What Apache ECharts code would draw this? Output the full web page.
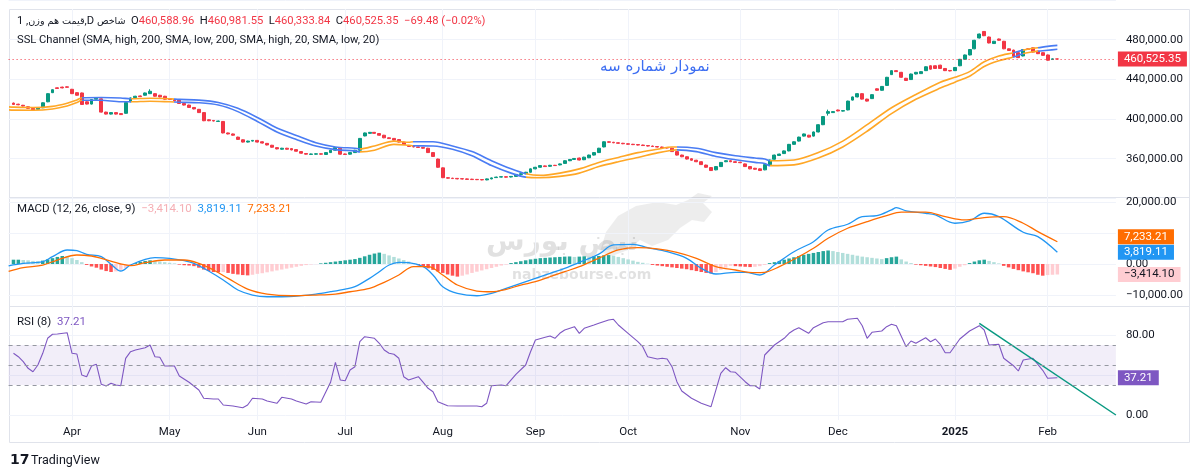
<!DOCTYPE html>
<html><head><meta charset="utf-8">
<script src="https://cdn.jsdelivr.net/npm/echarts@6/dist/echarts.min.js"></script>
<style>html,body{margin:0;padding:0;background:#fff}#c{width:1200px;height:476px}</style>
</head><body><div id="c"></div>
<script>
// ---------- DATA (prices in thousands) ----------
// candles: [open, close, low, high]
const candles = [
[416.1,414.7,414.3,416.6],[415.0,414.4,414.0,415.4],[413.9,413.1,412.7,414.3],[412.4,410.8,410.4,412.8],[410.8,409.2,408.8,411.1],
[409.8,411.4,409.4,411.8],[411.4,416.4,411.0,416.8],[417.4,425.6,417.0,426.0],[426.6,429.6,426.2,430.0],[431.5,430.8,430.4,431.9],
[432.2,431.4,431.0,432.6],[432.5,432.0,431.6,432.9],[430.0,425.6,425.2,430.4],[426.6,424.0,423.6,427.0],[426.3,414.7,414.3,426.7],
[417.4,415.1,414.7,417.8],[415.1,419.7,414.7,420.1],[420.0,421.0,419.6,421.4],[420.4,407.0,406.6,420.8],[407.0,405.0,404.6,407.4],
[405.0,406.5,404.6,406.9],[406.5,405.0,404.6,406.9],[405.5,404.5,404.1,405.9],[405.8,416.7,405.4,417.1],[417.4,421.3,417.0,421.7],
[421.6,423.0,421.2,423.4],[423.3,422.6,422.2,423.7],[424.0,426.3,423.6,426.7],[425.6,428.0,425.2,430.0],[425.6,423.0,422.6,426.0],
[424.0,422.3,421.9,424.4],[423.0,420.0,419.6,423.4],[420.6,419.7,419.3,421.0],[419.7,418.4,418.0,420.1],[419.1,415.7,415.3,419.5],
[415.7,414.1,413.7,416.1],[414.1,411.7,411.3,414.5],[411.7,410.2,409.8,412.1],[409.8,406.5,406.1,410.2],[406.5,398.3,397.9,406.9],
[399.3,398.3,397.9,399.7],[398.6,398.0,397.6,399.0],[397.6,398.0,397.2,398.4],[397.6,386.0,385.6,398.0],[386.0,385.0,384.6,386.4],
[385.0,383.7,383.3,385.4],[381.8,379.5,379.1,382.2],[379.1,376.8,376.4,379.5],[376.8,377.8,376.4,378.2],[377.8,378.5,377.4,378.9],
[378.5,376.8,376.4,378.9],[377.1,375.8,375.4,377.5],[375.5,373.9,373.5,375.9],[373.6,371.6,371.2,374.0],[371.2,369.9,369.5,371.6],
[369.6,370.6,369.2,371.0],[370.6,369.6,369.2,371.0],[370.2,368.9,368.5,370.6],[369.2,367.6,367.2,369.6],[367.2,365.6,365.2,367.6],
[365.3,364.6,364.2,365.7],[364.4,364.8,364.0,365.2],[364.6,365.0,364.2,365.4],[365.0,364.6,364.2,365.4],[364.3,366.2,363.9,366.6],
[366.2,368.6,365.8,369.0],[368.6,371.2,368.2,371.6],[370.6,364.6,364.2,371.0],[364.8,364.3,363.9,365.2],[364.6,366.2,364.2,366.6],
[366.2,368.6,365.8,369.0],[368.6,380.5,368.2,380.9],[383.0,386.0,382.6,386.4],[385.6,386.6,385.2,387.0],[386.6,385.6,385.2,387.0],
[385.4,383.7,383.3,385.8],[383.7,381.1,380.7,384.1],[381.1,380.3,379.9,381.5],[380.5,378.8,378.4,380.9],[379.3,376.8,376.4,379.7],
[376.8,374.3,373.9,377.2],[373.4,372.4,372.0,373.8],[372.4,371.9,371.5,372.8],[371.9,371.4,371.0,372.3],[371.4,370.6,370.2,371.8],
[370.6,366.2,365.8,371.0],[366.2,362.3,361.9,366.6],[359.7,351.4,351.0,360.1],[350.8,340.9,340.5,351.2],[340.9,340.4,340.0,341.3],
[340.4,340.0,339.6,340.8],[340.2,339.7,339.3,340.6],[339.9,339.6,339.2,340.3],[339.7,339.2,338.8,340.1],[339.4,339.0,338.6,339.8],
[339.2,338.9,338.5,339.6],[339.0,338.7,338.3,339.4],[338.7,339.7,338.3,340.1],[339.7,340.7,339.3,341.1],[341.0,341.5,340.6,341.9],
[341.5,341.9,341.1,342.3],[341.9,341.4,341.0,342.3],[341.6,342.2,341.2,342.6],[342.2,344.2,341.8,344.6],[344.2,344.9,343.8,345.3],
[344.9,346.4,344.5,346.8],[346.4,349.8,346.0,350.2],[349.8,351.4,349.4,351.8],[351.4,353.1,351.0,353.5],[352.8,352.1,351.7,353.2],
[352.4,353.4,352.0,353.8],[353.4,353.1,352.7,353.8],[353.8,354.8,353.4,355.2],[355.3,358.0,354.9,358.4],[358.0,359.3,357.6,359.7],
[359.3,360.3,358.9,360.7],[360.7,358.7,358.3,361.1],[359.0,361.6,358.6,362.0],[361.0,363.7,360.6,364.1],[363.7,366.2,363.3,366.6],
[366.2,370.6,365.8,371.0],[371.9,377.1,371.5,377.5],[377.1,376.6,376.2,377.5],[376.6,376.1,375.7,377.0],[376.1,375.6,375.2,376.5],
[375.6,375.1,374.7,376.0],[375.1,374.6,374.2,375.5],[374.6,374.2,373.8,375.0],[374.3,373.8,373.4,374.7],[373.8,373.3,372.9,374.2],
[373.3,372.8,372.4,373.7],[372.8,372.3,371.9,373.2],[372.3,371.8,371.4,372.7],[371.8,371.3,370.9,372.2],[371.3,370.8,370.4,371.7],
[370.6,367.2,366.8,371.0],[367.2,363.7,363.3,367.6],[363.7,362.0,361.6,364.1],[362.0,359.7,359.3,362.4],[360.0,358.5,358.1,360.4],
[358.5,357.0,356.6,358.9],[357.0,354.1,353.7,357.4],[353.6,351.4,351.0,354.0],[351.1,348.1,347.7,351.5],[348.8,352.1,348.4,352.5],
[352.1,356.3,351.7,356.7],[357.0,358.0,356.6,358.4],[358.0,357.0,356.6,358.4],[357.0,356.3,355.9,357.4],[356.5,356.0,355.6,356.9],
[354.8,352.1,351.7,355.2],[352.1,349.8,349.4,352.5],[350.4,349.4,349.0,350.8],[349.8,348.1,347.7,350.2],[348.8,354.1,348.4,354.5],
[354.1,358.7,353.7,359.1],[359.5,363.7,359.1,364.1],[363.3,364.7,362.9,365.1],[365.2,367.9,364.8,368.3],[367.9,374.5,367.5,374.9],
[374.5,377.1,374.1,377.5],[377.8,381.8,377.4,382.2],[382.8,385.0,382.4,385.4],[383.7,381.8,381.4,384.1],[382.8,387.0,382.4,387.4],
[387.0,394.3,386.6,394.7],[394.3,402.5,393.9,402.9],[405.8,407.5,403.5,409.5],[406.5,407.5,406.1,407.9],[409.1,408.2,407.8,409.5],
[408.0,408.5,407.6,408.9],[409.2,418.1,408.8,418.5],[419.1,422.3,418.7,422.7],[422.3,425.6,421.9,426.0],[425.6,420.1,419.7,426.0],
[420.1,418.1,417.7,420.5],[420.6,424.6,420.2,425.0],[430.5,429.0,428.6,430.9],[429.0,432.9,428.6,433.3],[433.9,442.1,433.5,442.5],
[444.8,448.8,444.4,449.2],[448.8,447.8,447.4,449.2],[447.1,442.1,441.7,447.5],[441.1,438.9,438.5,441.5],[439.8,445.4,439.4,445.8],
[445.4,447.1,445.0,447.5],[445.8,447.8,445.4,448.2],[448.8,452.7,448.4,453.1],[453.7,450.3,449.9,454.1],[453.7,451.0,450.6,454.1],
[454.3,451.0,450.6,454.7],[451.0,448.8,448.4,451.4],[449.0,448.5,448.1,449.4],[448.8,452.0,448.4,452.4],[453.7,460.2,453.3,460.6],
[460.2,464.6,459.8,465.0],[464.6,470.1,464.2,470.5],[470.8,479.4,470.4,479.8],[481.7,485.7,481.3,486.1],[488.3,484.0,483.6,488.7],
[482.7,476.7,476.3,483.1],[476.1,478.4,475.7,478.8],[480.7,479.4,479.0,481.1],[478.4,470.8,470.4,478.8],[470.8,469.1,468.7,471.2],
[469.5,462.9,462.5,469.9],[466.9,461.9,461.5,467.3],[463.6,470.1,463.2,470.5],[470.8,470.1,469.7,471.2],[471.8,467.5,467.1,472.2],
[468.5,465.9,465.5,468.9],[466.9,464.2,463.8,467.3],[464.6,459.3,458.9,465.0],[460.0,460.7,459.6,461.1],[460.589,460.525,460.334,460.982]
];
const lastOHLC = ['460,588.96','460,981.55','460,333.84','460,525.35'];
const lastChange = '−69.48 (−0.02%)';
const lastPrice = 460.52535;

// SSL channel knots [barIndex, value]
const sslUpper = [[-1,412.3],[0,412.0],[4,411.6],[8,412.8],[11,416.0],[13,419.2],[14,421.5],[18,421.8],[22,421.3],[24,420.4],[28,420.9],[32,420.4],[34,419.8],[38,419.1],[42,416.7],[46,410.8],[50,401.6],[54,391.0],[58,383.4],[62,376.1],[66,371.9],[70,370.6],[71,369.9],[74,372.9],[78,377.8],[81,376.6],[82,377.1],[86,377.1],[90,372.9],[94,367.2],[98,358.0],[102,349.8],[105,344.9],[108,343.2],[112,345.5],[116,349.8],[120,356.3],[124,361.3],[128,366.2],[132,369.6],[135,371.9],[136,371.9],[140,370.6],[144,366.2],[148,363.0],[152,360.7],[154,359.7],[155,358.0],[160,358.7],[165,366.2],[170,377.8],[175,394.3],[180,411.4],[185,424.8],[190,437.2],[193,442.1],[196,447.8],[199,457.7],[202,463.6],[205,466.9],[207,469.5],[209,471.3],[210,471.8],[212,473.3],[214,474.3]];
const sslLower = [[-1,409.3],[0,409.0],[4,408.9],[8,410.2],[11,413.2],[13,416.6],[14,419.0],[18,418.9],[22,417.4],[24,417.4],[28,418.0],[32,417.4],[34,417.0],[38,416.4],[42,414.1],[46,407.5],[50,397.6],[54,387.0],[58,379.5],[62,372.9],[66,369.2],[70,367.9],[71,366.9],[74,368.6],[78,374.5],[81,373.6],[82,373.1],[86,372.9],[90,369.6],[94,363.0],[98,353.1],[102,345.5],[105,341.5],[108,340.9],[112,342.2],[116,345.5],[120,352.1],[124,357.0],[128,361.3],[132,365.9],[135,368.6],[136,368.9],[140,367.2],[144,362.3],[148,359.0],[152,356.3],[154,355.3],[155,353.1],[160,353.8],[165,360.7],[170,371.9],[175,387.7],[180,405.5],[185,419.9],[190,431.2],[193,437.2],[196,443.1],[199,453.0],[202,458.7],[205,462.6],[207,466.0],[209,467.9],[210,468.3],[212,469.3],[214,470.3]];
// trend sections of the channel: [fromBar, toBar, direction]
const sslTrend = [[-1,13.5,'up'],[13.5,23.5,'down'],[23.5,33,'up'],[33,70.5,'down'],[70.5,81.5,'up'],[81.5,104.5,'down'],[104.5,135.5,'up'],[135.5,154.5,'down'],[154.5,205,'up'],[205,207,'down'],[207,209.5,'up'],[209.5,215,'down']];

// MACD (thousands)
const macdLine = [[-1,-0.6],[2,0.2],[6,0.75],[8,2.4],[11,4.56],[13,4.35],[15,3.15],[18,2.38],[20,-0.1],[22,-2.28],[24,-0.33],[27,1.52],[29,2.06],[32,1.85],[35,1.08],[37,0.22],[40,-2.28],[43,-5.2],[46,-8.47],[49,-10.1],[52,-10.65],[55,-10.65],[59,-10.3],[62,-9.77],[65,-9.0],[68,-8.14],[70,-7.38],[73,-4.66],[75,-2.5],[77,-0.33],[79,0.54],[81,0.43],[84,-0.87],[86,-3.58],[88,-7.38],[91,-9.55],[95,-10.32],[98,-9.55],[101,-7.93],[104,-6.29],[107,-4.66],[110,-3.03],[113,-1.4],[116,0.5],[120,3.2],[123,6.19],[127,6.4],[130,5.3],[134,4.0],[138,1.85],[141,-1.4],[144,-3.26],[148,-2.7],[150,-2.7],[153,-3.58],[156,-0.33],[160,4.0],[164,7.26],[167,11.07],[171,12.93],[174,15.41],[177,15.73],[180,17.59],[181,18.34],[183,17.26],[187,16.51],[189,15.96],[193,13.26],[196,14.0],[199,16.51],[202,15.41],[207,10.32],[210,8.89],[214,3.81911]];
const signalLine = [[-1,-2.4],[2,-1.2],[6,-0.33],[9,1.3],[13,2.93],[16,2.6],[18,1.85],[22,0.0],[24,-0.55],[27,0.43],[31,1.3],[35,1.3],[38,0.22],[41,-1.95],[44,-4.66],[48,-8.14],[52,-9.77],[57,-10.32],[62,-10.1],[66,-9.77],[69,-9.02],[73,-7.93],[76,-5.97],[79,-3.58],[82,-0.87],[85,-0.87],[88,-3.58],[91,-6.84],[95,-8.79],[98,-9.02],[101,-8.24],[104,-6.84],[107,-5.76],[110,-4.14],[113,-2.5],[116,-0.87],[120,1.9],[124,4.56],[128,5.3],[132,4.89],[136,3.8],[140,1.85],[144,-0.87],[148,-1.95],[152,-2.83],[154,-2.7],[157,-0.87],[161,2.38],[164,5.11],[167,8.37],[171,11.63],[175,13.78],[179,15.73],[182,16.84],[187,16.84],[191,15.41],[195,14.33],[199,15.08],[203,15.41],[207,13.26],[210,10.52],[214,7.23321]];
const macdHist = [
1.4,1.4,1.3,1.2,1.0,0.9, 1.1,1.5,1.9,2.3,2.6, 2.4,1.9,1.3,0.6, -0.3,-0.8,-1.2,-1.8,-2.3,-2.6,
-2.4,-1.9,-1.3,-0.6, 0.3,0.7,1.0,1.2, 1.0,0.8,0.6,0.4,0.2, -0.2,-0.4,-0.5,-0.7, -1.2,-1.8,-2.3,-2.6,-2.7,
-2.6, -2.9,-3.2,-3.4,-3.6,-3.7, -3.5,-3.2,-3.0,-2.7,-2.4,-2.1,-1.8,-1.5,-1.2,-0.9,-0.6,-0.35,-0.15,-0.05,
0.2,0.4,0.6,0.8,1.0,1.2,1.4,1.6,2.0,2.5,3.0,3.4,3.7, 3.3,2.8,2.3,1.8,1.3,0.8,0.3,
-0.4,-0.9,-1.4,-1.9,-2.4,-2.9,-3.4,-3.8,-4.1, -3.8,-3.4,-2.9,-2.5,-2.1,-1.7,-1.3,-0.9,-0.5,-0.2,
0.3,0.6,0.9,1.2,1.5,1.7,1.9,2.0,2.1,2.2,2.3,2.4,2.45, 2.3,2.4,2.5,2.4,2.5, 2.6,2.8,2.9,
2.7,2.3,1.9,1.5,1.1,0.7,0.4,0.1, -0.3,-0.5,-0.7,-0.9,-1.1,-1.3,-1.5,-1.7,-2.0,-2.3,-2.6,-2.9,-3.1,
-2.6,-1.9,-1.2,-0.6, -0.7,-0.8,-0.9,-1.0, -0.9,-0.7,-0.3,
0.3,0.6,1.0,1.4,1.8,2.2,2.6,3.0,3.3,3.6,3.9,4.2,4.4, 4.2,3.9,3.6,3.3,3.0,2.7,2.4,2.2,2.0,1.8,1.6,
1.9,2.2,2.4, 1.5,0.8,0.3, -0.2,-0.4,-0.6,-0.8,-1.0,-1.3,-1.6,-1.9, -1.5,-0.9,-0.4,
0.3,0.8,1.2,1.4, 1.0,0.6,0.2, -0.6,-1.1,-1.6,-2.0,-2.4,-2.7,-3.0,-3.5,-3.8, -3.6,-3.5,-3.4141
];
// RSI(8) knots
const rsiLine = [[0,61.7],[1,58.3],[2,53.3],[3,46.7],[4,43.3],[5,50],[6,61.7],[7,76.7],[8,80.7],[9,81],[11,82.3],[12,61.7],[13,61],[14,40],[15,38.3],[16,49],[17,50.7],[18,30.7],[19,29],[20,31.7],[21,30],[22,29.3],[23,56.7],[24,63.3],[25,65],[27,67.3],[28,70],[29,58.3],[30,57.7],[31,49],[33,49],[34,39],[36,32.7],[38,25],[39,16.7],[41,16],[42,16],[43,10],[45,9],[47,7.3],[48,10],[49,16.7],[51,16],[52,14],[54,11.7],[55,17.7],[57,16],[58,14],[60,11],[61,13.3],[63,12.7],[65,32.7],[66,52.7],[67,35],[68,34.3],[69,45],[70,48.3],[71,73.3],[72,78.3],[74,76.7],[75,71.7],[76,65],[77,61.7],[78,60.7],[79,56.7],[80,38.3],[81,35],[83,38.3],[84,32.7],[85,26.7],[86,23.3],[87,13.3],[89,9.3],[91,9],[93,9],[95,9],[96,8.3],[97,11.7],[98,29.3],[100,30],[101,29.3],[103,40.7],[105,50],[106,63.3],[107,75],[109,77.7],[110,79],[111,76.7],[112,81.7],[113,85],[115,88.3],[116,81.7],[117,86.7],[119,90],[120,91.7],[122,95],[123,95.7],[124,90],[126,81.7],[128,73.3],[129,68.3],[130,58.3],[132,56],[133,56.7],[134,56],[135,48.3],[136,33.3],[137,24],[139,16.7],[141,11.7],[143,8.3],[145,41.7],[146,47.3],[147,43.3],[148,42.7],[150,33.3],[151,29.3],[152,29.3],[153,26],[154,60],[156,70],[158,76.7],[159,81.7],[160,85],[161,87.3],[163,81.7],[164,87.3],[166,92.3],[167,93.3],[170,93.3],[171,95.7],[173,96.7],[174,89.3],[175,76.7],[176,82.7],[178,84],[179,88.3],[180,90.7],[181,89.3],[183,68.3],[184,74],[185,71.7],[187,77.3],[188,73.3],[189,76],[190,70.7],[191,62.3],[192,62.3],[194,76],[195,80],[196,84],[198,89.3],[199,85],[200,70],[202,70.7],[203,56.7],[205,49.3],[206,44],[207,55],[209,56.7],[210,50.7],[211,44.7],[212,36.7],[214,37.21]];
const rsiLevels = [70, 50, 30];
const rsiTrendLine = [[198, 91.7], [226, 0]];

// time axis: [barIndex, label]
const monthTicks = [[12,'Apr'],[32,'May'],[50,'Jun'],[68,'Jul'],[88,'Aug'],[107,'Sep'],[126,'Oct'],[149,'Nov'],[169,'Dec'],[193,'2025'],[212,'Feb']];
const priceAxis = {min: 320, max: 520, step: 40};
const macdAxis = {min: -10, max: 20, step: 10};
const rsiAxis = {min: 0, max: 80, step: 40};
const lastMacd = 3.81911, lastSignal = 7.23321, lastHist = -3.4141, lastRsi = 37.21;

// ---------- CHART ----------
const N_CAT = 228; // bar i is drawn at category i+1; extra categories = future space
const cats = Array.from({length: N_CAT}, (_, c) => String(c));
const monthMap = new Map(monthTicks.map(([i, l]) => [i + 1, l]));
const sh = p => p.map(([i, v]) => [i + 1, v]);
const fmt = (v, d) => (v < 0 ? '−' : '') + Math.abs(v).toLocaleString('en-US', {minimumFractionDigits: d, maximumFractionDigits: d});

const FONT = 'Roboto, "Liberation Sans", sans-serif';
const FS = 11.2;
const TXT = '#131722';
const UP = '#089981', DOWN = '#F23645';
const GRIDC = '#F0F3FA';

const L = 8.6, R = 84.1;
const pxPerK = 1 / 0.9894;
const mainBottom = 198.43;
const mainH = (priceAxis.max - priceAxis.min) * pxPerK;

const xa = (g, extra) => Object.assign({
  type: 'category', gridIndex: g, data: cats, boundaryGap: false,
  axisLine: {show: false}, axisTick: {show: false}, axisLabel: {show: false}, splitLine: {show: false}
}, extra || {});
const ya = (g, ax, f, hide) => ({
  type: 'value', gridIndex: g, position: 'right', min: ax.min, max: ax.max, interval: ax.step,
  axisLine: {show: false}, axisTick: {show: false},
  splitLine: {show: true, lineStyle: {color: GRIDC, width: 1}},
  axisLabel: {show: true, margin: 10, color: TXT, fontSize: 11.5, fontFamily: FONT, align: 'left',
    showMinLabel: !(hide && hide.min), showMaxLabel: !(hide && hide.max), formatter: f}
});

const tag = (val, text, bg, fg, dy) => ({
  yAxis: val,
  lineStyle: {color: 'rgba(0,0,0,0)', width: 0},
  label: {show: true, position: 'end', distance: 2, formatter: text, backgroundColor: bg, color: fg, opacity: 1,
    padding: [2, 6, 1, 6], fontSize: 11.5, fontFamily: FONT, offset: [0, dy || 0]}
});

const histColor = p => {
  const i = p.dataIndex, v = macdHist[i], pv = i > 0 ? macdHist[i - 1] : v;
  if (v >= 0) return v >= pv ? '#26A69A' : '#B2DFDB';
  return v < pv ? '#FF5252' : '#FFCDD2';
};

const chart = echarts.init(document.getElementById('c'), null, {renderer: 'canvas'});
const option = {
  animation: false,
  backgroundColor: '#ffffff',
  textStyle: {fontFamily: FONT},
  grid: [
    {left: L, right: R, top: mainBottom - mainH, height: mainH},
    {left: L, right: R, top: 202.5, height: 92.25},
    {left: L, right: R, top: 335, height: 80},
    {left: L, right: R, top: 9, height: 411}
  ],
  xAxis: [
    xa(0), xa(1), xa(2),
    xa(3, {
      splitLine: {show: true, interval: (idx) => monthMap.has(idx), lineStyle: {color: GRIDC, width: 1}},
      axisLabel: {show: true, interval: (idx) => monthMap.has(idx), margin: 6, color: TXT, fontSize: 11.5, fontFamily: FONT,
        formatter: (v, idx) => { const l = monthMap.get(Number(v)); return l === '2025' ? '{b|2025}' : (l || ''); },
        rich: {b: {fontWeight: 'bold', fontSize: 11.5, color: TXT, fontFamily: FONT}}}
    })
  ],
  yAxis: [
    ya(0, priceAxis, v => fmt(v * 1000, 2), {min: true, max: true}),
    ya(1, macdAxis, v => v === 10 ? '' : fmt(v * 1000, 2)),
    ya(2, rsiAxis, v => v === 40 ? '' : fmt(v, 2)),
    {type: 'value', gridIndex: 3, show: false, min: 0, max: 1, splitLine: {show: false}}
  ],
  visualMap: [{
    show: false, type: 'piecewise', dimension: 0, seriesIndex: [1, 2],
    pieces: sslTrend.map(([s, e, d]) => ({gte: s + 1, lt: e + 1, color: d === 'up' ? '#FFA726' : '#4A7CF3'}))
  }],
  series: [
    {
      type: 'candlestick', xAxisIndex: 0, yAxisIndex: 0, barWidth: 3.4,
      data: candles.map((r, i) => [i + 1, r[0], r[1], r[2], r[3]]),
      encode: {x: 0, y: [1, 2, 3, 4]},
      itemStyle: {color: UP, color0: DOWN, borderColor: UP, borderColor0: DOWN, borderWidth: 1},
      z: 3,
      markLine: {
        silent: true, symbol: ['none', 'none'], animation: false,
        data: [{yAxis: lastPrice, lineStyle: {color: DOWN, type: [1, 3], width: 1},
          label: {show: true, position: 'end', distance: 2, formatter: lastOHLC[3], backgroundColor: DOWN, color: '#fff',
            padding: [2, 6, 1, 6], fontSize: 11.5, fontFamily: FONT}}]
      }
    },
    {type: 'line', xAxisIndex: 0, yAxisIndex: 0, data: sh(sslUpper), smooth: 0.3, showSymbol: false, symbol: 'none',
      lineStyle: {width: 1.6}, z: 4},
    {type: 'line', xAxisIndex: 0, yAxisIndex: 0, data: sh(sslLower), smooth: 0.3, showSymbol: false, symbol: 'none',
      lineStyle: {width: 1.6}, z: 4},
    {type: 'bar', xAxisIndex: 1, yAxisIndex: 1, barWidth: 3.5, data: macdHist.map((v, i) => [i + 1, v]),
      itemStyle: {color: histColor}, z: 2,
      markLine: {silent: true, symbol: ['none', 'none'], z: 10, data: [tag(lastHist, fmt(lastHist * 1000, 2), '#FFCDD2', TXT)]}},
    {type: 'line', xAxisIndex: 1, yAxisIndex: 1, data: sh(macdLine), smooth: 0.35, showSymbol: false, symbol: 'none', clip: false,
      lineStyle: {color: '#2196F3', width: 1.3}, z: 4,
      markLine: {silent: true, symbol: ['none', 'none'], z: 10, data: [tag(lastMacd, fmt(lastMacd * 1000, 2), '#2196F3', '#fff')]}},
    {type: 'line', xAxisIndex: 1, yAxisIndex: 1, data: sh(signalLine), smooth: 0.35, showSymbol: false, symbol: 'none', clip: false,
      lineStyle: {color: '#FF6D00', width: 1.3}, z: 4,
      markLine: {silent: true, symbol: ['none', 'none'], z: 10, data: [tag(lastSignal, fmt(lastSignal * 1000, 2), '#FF6D00', '#fff', -5)]}},
    {type: 'line', xAxisIndex: 2, yAxisIndex: 2, data: sh(rsiLine), showSymbol: false, symbol: 'none', clip: false,
      lineStyle: {color: '#7E57C2', width: 1.1}, z: 4,
      markArea: {silent: true, itemStyle: {color: 'rgba(126,87,194,0.1)'}, data: [[{yAxis: rsiLevels[2]}, {yAxis: rsiLevels[0]}]]},
      markLine: {silent: true, symbol: ['none', 'none'], z: 10,
        data: rsiLevels.map(v => ({yAxis: v, lineStyle: {color: '#9598A1', type: [4, 4], width: 1}, label: {show: false}}))
          .concat([tag(lastRsi, fmt(lastRsi, 2), '#7E57C2', '#fff')])}},
    {type: 'line', xAxisIndex: 2, yAxisIndex: 2, data: sh(rsiTrendLine), showSymbol: false, symbol: 'none', clip: false,
      lineStyle: {color: '#089981', width: 1.5}, z: 5}
  ],
  graphic: [
    {type: 'rect', silent: true, z: 0, shape: {x: 9.5, y: 9.5, width: 1180, height: 433}, style: {fill: 'none', stroke: '#E0E3EB', lineWidth: 1}},
    {type: 'line', silent: true, z: 0, shape: {x1: 9.5, y1: 197.5, x2: 1189.5, y2: 197.5}, style: {stroke: '#E0E3EB', lineWidth: 1}},
    {type: 'line', silent: true, z: 0, shape: {x1: 9.5, y1: 306.5, x2: 1189.5, y2: 306.5}, style: {stroke: '#E0E3EB', lineWidth: 1}},
    // watermark (bull + site name)
    {type: 'polygon', silent: true, z: 0, shape: {points: [[600,252],[606,232],[618,216],[636,206],[658,202],[676,205],[688,200],[698,193],[712,196],[703,203],[712,212],[704,222],[692,220],[680,228],[668,240],[652,246],[640,240],[628,250],[612,256]]},
      style: {fill: 'rgba(140,140,140,0.16)'}},
    {type: 'text', silent: true, z: 0, left: 486, top: 229, style: {text: 'نبض بورس', font: 'bold 28px "DejaVu Sans"', fill: 'rgba(120,120,120,0.22)'}},
    {type: 'text', silent: true, z: 0, left: 512, top: 268, style: {text: 'nabzebourse.com', font: 'bold 14px "DejaVu Sans"', fill: 'rgba(120,120,120,0.22)'}},
    // legends
    {type: 'text', z: 10, left: 17, top: 16, style: {
      text: '{d|1 ,}{f|قیمت هم وزن}{d|,D }{f|شاخص}{d|  O}{r|' + lastOHLC[0] + '}{d|  H}{r|' + lastOHLC[1] + '}{d|  L}{r|' + lastOHLC[2] + '}{d|  C}{r|' + lastOHLC[3] + '}{r|  ' + lastChange + '}',
      rich: {d: {fontSize: FS, fontFamily: FONT, fill: TXT, color: TXT}, f: {fontSize: 9.6, fontFamily: '"DejaVu Sans"', fill: TXT, color: TXT},
        r: {fontSize: FS, fontFamily: FONT, fill: DOWN, color: DOWN}}}},
    {type: 'text', z: 10, left: 17, top: 35, style: {text: 'SSL Channel (SMA, high, 200, SMA, low, 200, SMA, high, 20, SMA, low, 20)', font: FS + 'px ' + FONT, fill: TXT}},
    {type: 'text', z: 10, left: 600, top: 60, style: {text: 'نمودار شماره سه', font: '15px "DejaVu Sans"', fill: '#3D6EF2'}},
    {type: 'text', z: 10, left: 17, top: 203, style: {
      text: '{d|MACD (12, 26, close, 9)  }{p|' + fmt(lastHist * 1000, 2) + '}{d|  }{b|' + fmt(lastMacd * 1000, 2) + '}{d|  }{o|' + fmt(lastSignal * 1000, 2) + '}',
      rich: {d: {fontSize: 11.5, fontFamily: FONT, fill: TXT}, p: {fontSize: 11.5, fontFamily: FONT, fill: '#F5AEB4'},
        b: {fontSize: 11.5, fontFamily: FONT, fill: '#2196F3'}, o: {fontSize: 11.5, fontFamily: FONT, fill: '#FF6D00'}}}},
    {type: 'text', z: 10, left: 17, top: 316, style: {
      text: '{d|RSI (8)  }{p|' + fmt(lastRsi, 2) + '}',
      rich: {d: {fontSize: 11.5, fontFamily: FONT, fill: TXT}, p: {fontSize: 11.5, fontFamily: FONT, fill: '#7E57C2'}}}},
    // TradingView logo
    {type: 'text', z: 10, left: 10, top: 453, style: {text: '17', font: 'bold 14px "DejaVu Sans"', fill: TXT}},
    {type: 'text', z: 10, left: 31, top: 454, style: {text: 'TradingView', font: '12.5px ' + FONT, fill: TXT}}
  ]
};
chart.setOption(option);
</script></body></html>
